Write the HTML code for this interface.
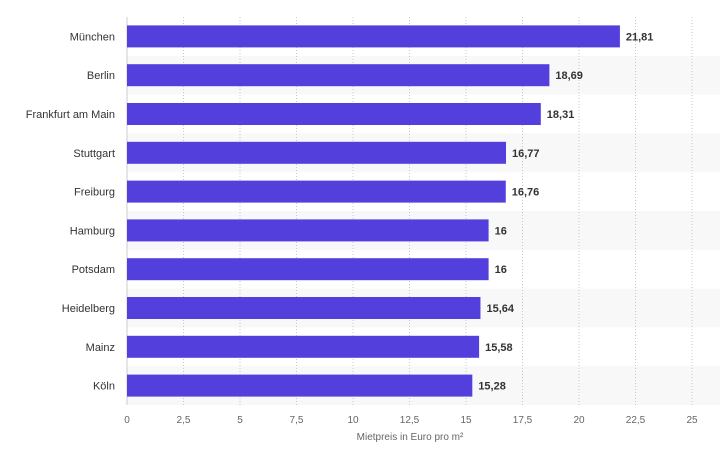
<!DOCTYPE html>
<html><head><meta charset="utf-8"><style>
body{margin:0;background:#fff;font-family:"Liberation Sans",sans-serif}
svg text{font-family:"Liberation Sans",sans-serif}
</style></head><body>
<svg width="720" height="452">
<g id="g"></g>
</svg>
<script>
const categories=["München","Berlin","Frankfurt am Main","Stuttgart","Freiburg","Hamburg","Potsdam","Heidelberg","Mainz","Köln"];
const values=[21.81,18.69,18.31,16.77,16.76,16,16,15.64,15.58,15.28];
const valueLabels=["21,81","18,69","18,31","16,77","16,76","16","16","15,64","15,58","15,28"];
const ticks=[0,2.5,5,7.5,10,12.5,15,17.5,20,22.5,25];
const tickLabels=["0","2,5","5","7,5","10","12,5","15","17,5","20","22,5","25"];
const NS="http://www.w3.org/2000/svg";
const gEl=document.getElementById('g');
const x0=127,ppu=22.6,topY=17,rowH=38.8;
const xs=v=>x0+v*ppu;
const yc=i=>topY+rowH*(i+0.5);
function mk(t,a){const e=document.createElementNS(NS,t);for(const k in a)e.setAttribute(k,a[k]);gEl.appendChild(e);return e;}
categories.forEach((c,i)=>{if(i%2==1){const r=mk('rect',{x:x0,y:topY+rowH*i,width:720-x0,height:rowH,fill:'#f8f8f8'});

}});
ticks.forEach((t,i)=>{
if(i>0){const l=mk('line',{x1:xs(t),x2:xs(t),y1:topY,y2:topY+rowH*10,stroke:'#c8c8c8','stroke-dasharray':'1,2'});

}
const tx=mk('text',{x:xs(t),y:423,'text-anchor':'middle','font-size':10,fill:'#666'});tx.textContent=tickLabels[i];


});
const ax=mk('line',{x1:x0,x2:x0,y1:topY,y2:topY+rowH*10,stroke:'#ccc'});


categories.forEach((c,i)=>{
const b=mk('rect',{x:x0,y:yc(i)-11,width:xs(values[i])-x0,height:22,fill:'#5340dc'});


const cl=mk('text',{x:115,y:yc(i)+4,'text-anchor':'end','font-size':11,fill:'#333'});cl.textContent=c;


const vl=mk('text',{x:xs(values[i])+6,y:yc(i)+4,'font-size':11,'font-weight':'bold',fill:'#333'});vl.textContent=valueLabels[i];


});
const at=mk('text',{x:410,y:440,'text-anchor':'middle','font-size':10,fill:'#666'});at.textContent="Mietpreis in Euro pro m²";


</script>
</body></html>
